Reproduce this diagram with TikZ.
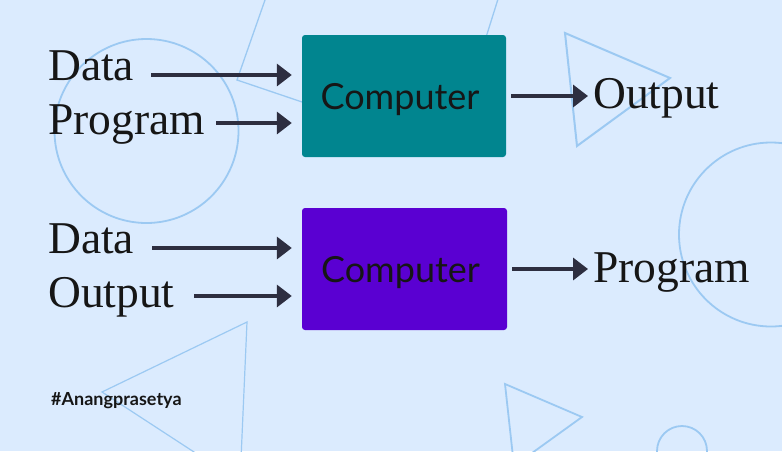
\documentclass[tikz,border=0pt]{standalone}
\usepackage{fontspec}
\setmainfont{Liberation Serif}
\newfontfamily\latofont{Lato}
\usetikzlibrary{arrows.meta}
\definecolor{bgblue}{HTML}{DBEBFE}
\definecolor{deco}{HTML}{9CC9F2}
\definecolor{tealbox}{HTML}{01858F}
\definecolor{purplebox}{HTML}{5A00D2}
\definecolor{arrowc}{HTML}{2D2E40}
\definecolor{txt}{HTML}{161616}
\tikzset{
  decoline/.style={draw=deco, line width=1.8pt},
  compbox/.style={rounded corners=3pt, minimum width=204pt, minimum height=122pt, inner sep=0pt,
    text depth=0pt, text=txt, font=\latofont\fontsize{36}{40}\selectfont},
  lbl/.style={anchor=base west, inner sep=0pt, text=txt, font=\fontsize{45.5}{50}\selectfont},
  arr/.style={draw=arrowc, line width=3.5pt, -{Triangle[length=15pt,width=22pt]}},
}
\begin{document}
\begin{tikzpicture}[x=1pt,y=-1pt]
\useasboundingbox (0,0) rectangle (782,451);
\fill[bgblue] (0,0) rectangle (782,451);
\begin{scope}
\clip (0,0) rectangle (782,451);
\draw[decoline] (146.5,131) circle[radius=92];
\draw[decoline, line width=1.3pt] (272,-20) -- (237,80) -- (450,152) -- (504,-20);
\draw[decoline, line width=2pt] (565,33) -- (670,78) -- (577,146) -- cycle;
\draw[decoline] (771,234.5) circle[radius=92];
\draw[decoline, line width=1.2pt] (247,322) -- (102,392) -- (240,482) -- cycle;
\draw[decoline] (505,384) -- (582,417) -- (514,466) -- cycle;
\draw[decoline] (682,451) circle[radius=25];
\end{scope}

\node[compbox, fill=tealbox] (c1) at (404,96) {Computer\hspace*{8pt}};
\node[compbox, fill=purplebox, minimum width=205pt] (c2) at (404.5,269) {Computer\hspace*{8pt}};

\node[lbl] (d1) at (48,80) {Data};
\node[lbl] (p1) at (48,134) {Program};
\node[lbl] (o1) at (593,108) {Output};
\node[lbl] (d2) at (48,253) {Data};
\node[lbl] (o2) at (48,307) {Output};
\node[lbl] (p2) at (593,282) {Program};

\coordinate (a1) at (151,75);
\coordinate (a2) at (216,123);
\coordinate (a3) at (152,248);
\coordinate (a4) at (194,296);

\draw[arr, shorten >=10pt] (a1) -- (a1 -| c1.west);
\draw[arr, shorten >=10pt] (a2) -- (a2 -| c1.west);
\draw[arr, shorten >=10pt] (a3) -- (a3 -| c2.west);
\draw[arr, shorten >=10pt] (a4) -- (a4 -| c2.west);
\draw[arr, shorten <=5pt, shorten >=5pt] (c1.east) -- (o1.west |- c1.east);
\draw[arr, shorten <=5pt, shorten >=5pt] (c2.east) -- (p2.west |- c2.east);

\node[anchor=base west, inner sep=0pt, text=txt, font=\latofont\bfseries\fontsize{18}{20}\selectfont] (tag) at (51,405) {\#Anangprasetya};
\end{tikzpicture}
\end{document}
